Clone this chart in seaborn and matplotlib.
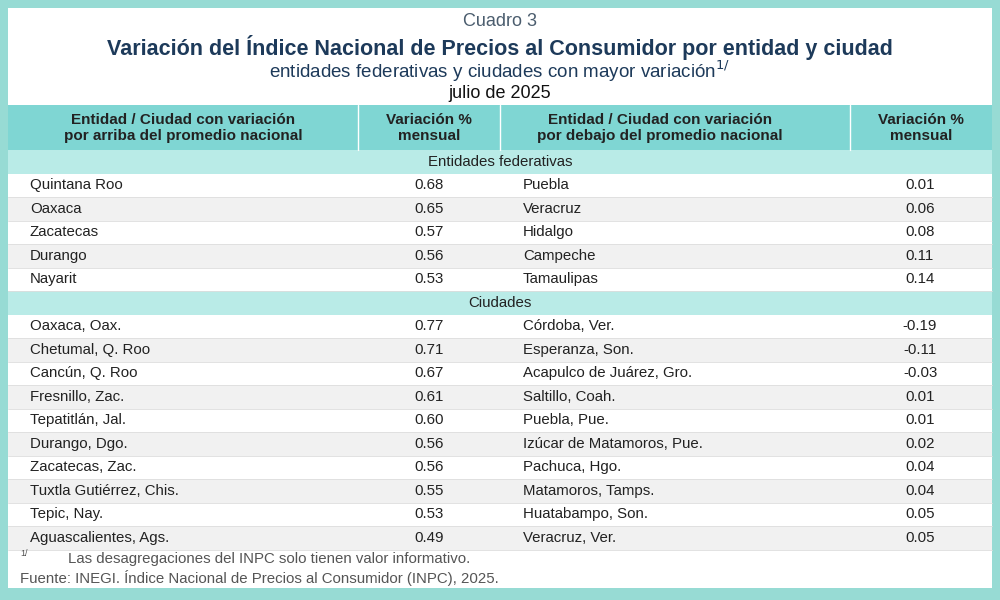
import matplotlib
matplotlib.use("Agg")
import matplotlib.pyplot as plt
import seaborn as sns
from matplotlib.patches import Rectangle

sns.set_theme(style="white", font="Liberation Sans")

ent_arriba = ["Quintana Roo", "Oaxaca", "Zacatecas", "Durango", "Nayarit"]
ent_arriba_val = [0.68, 0.65, 0.57, 0.56, 0.53]
ent_abajo = ["Puebla", "Veracruz", "Hidalgo", "Campeche", "Tamaulipas"]
ent_abajo_val = [0.01, 0.06, 0.08, 0.11, 0.14]
cd_arriba = ["Oaxaca, Oax.", "Chetumal, Q. Roo", "Cancún, Q. Roo", "Fresnillo, Zac.",
             "Tepatitlán, Jal.", "Durango, Dgo.", "Zacatecas, Zac.",
             "Tuxtla Gutiérrez, Chis.", "Tepic, Nay.", "Aguascalientes, Ags."]
cd_arriba_val = [0.77, 0.71, 0.67, 0.61, 0.60, 0.56, 0.56, 0.55, 0.53, 0.49]
cd_abajo = ["Córdoba, Ver.", "Esperanza, Son.", "Acapulco de Juárez, Gro.", "Saltillo, Coah.",
            "Puebla, Pue.", "Izúcar de Matamoros, Pue.", "Pachuca, Hgo.",
            "Matamoros, Tamps.", "Huatabampo, Son.", "Veracruz, Ver."]
cd_abajo_val = [-0.19, -0.11, -0.03, 0.01, 0.01, 0.02, 0.04, 0.04, 0.05, 0.05]

fig = plt.figure(figsize=(10, 6), dpi=100)
fig.patch.set_facecolor("#97dbd4")
ax = fig.add_axes([0, 0, 1, 1])
ax.set_xlim(0, 1000)
ax.set_ylim(600, 0)
ax.axis("off")

ax.add_patch(Rectangle((8, 8), 984, 580, facecolor="white", edgecolor="none"))

ax.text(500, 22, "Cuadro 3", ha="center", va="center", fontsize=13, color="#4b5d6e")
ax.text(500, 47, "Variación del Índice Nacional de Precios al Consumidor por entidad y ciudad",
        ha="center", va="center", fontsize=15.5, weight="bold", color="#1d3a5a")
ax.text(500, 71, "entidades federativas y ciudades con mayor variación$^{1/}$", ha="center",
        va="center", fontsize=13.5, color="#1d3a5a")
ax.text(500, 93, "julio de 2025", ha="center", va="center", fontsize=13, color="#111111")

# header
ax.add_patch(Rectangle((8, 105), 984, 45, facecolor="#7fd6d3", edgecolor="none"))
for x in [358, 500, 850]:
    ax.plot([x, x], [105, 150], color="white", lw=1)
hdr = [(183, "Entidad / Ciudad con variación\npor arriba del promedio nacional"),
       (429, "Variación %\nmensual"),
       (660, "Entidad / Ciudad con variación\npor debajo del promedio nacional"),
       (921, "Variación %\nmensual")]
for x, t in hdr:
    ax.text(x, 128, t, ha="center", va="center", fontsize=11, weight="bold",
            color="#222222", linespacing=1.15)

rh = 23.5

def section(y, title):
    ax.add_patch(Rectangle((8, y), 984, rh, facecolor="#b9ebe7", edgecolor="none"))
    ax.text(500, y + rh / 2, title, ha="center", va="center", fontsize=10.8, color="#222222")

def rows(y0, la, lv, ra, rv):
    for i in range(len(la)):
        y = y0 + i * rh
        fc = "white" if i % 2 == 0 else "#f1f1f1"
        ax.add_patch(Rectangle((8, y), 984, rh, facecolor=fc, edgecolor="none"))
        ax.plot([8, 992], [y + rh, y + rh], color="#dddddd", lw=0.6)
        cy = y + rh / 2
        ax.text(30, cy, la[i], ha="left", va="center", fontsize=10.8, color="#222222")
        ax.text(429, cy, f"{lv[i]:.2f}", ha="center", va="center", fontsize=10.8, color="#222222")
        ax.text(523, cy, ra[i], ha="left", va="center", fontsize=10.8, color="#222222")
        ax.text(920, cy, f"{rv[i]:.2f}", ha="center", va="center", fontsize=10.8, color="#222222")

section(150, "Entidades federativas")
rows(150 + rh, ent_arriba, ent_arriba_val, ent_abajo, ent_abajo_val)
ys = 150 + rh * 6
section(ys, "Ciudades")
rows(ys + rh, cd_arriba, cd_arriba_val, cd_abajo, cd_abajo_val)

ax.text(20, 554, "1/", ha="left", va="center", fontsize=6.5, color="#555555")
ax.text(68, 559, "Las desagregaciones del INPC solo tienen valor informativo.",
        ha="left", va="center", fontsize=10.8, color="#555555")
ax.text(20, 578, "Fuente: INEGI. Índice Nacional de Precios al Consumidor (INPC), 2025.",
        ha="left", va="center", fontsize=10.8, color="#555555")

fig.savefig("out.png", dpi=100)
